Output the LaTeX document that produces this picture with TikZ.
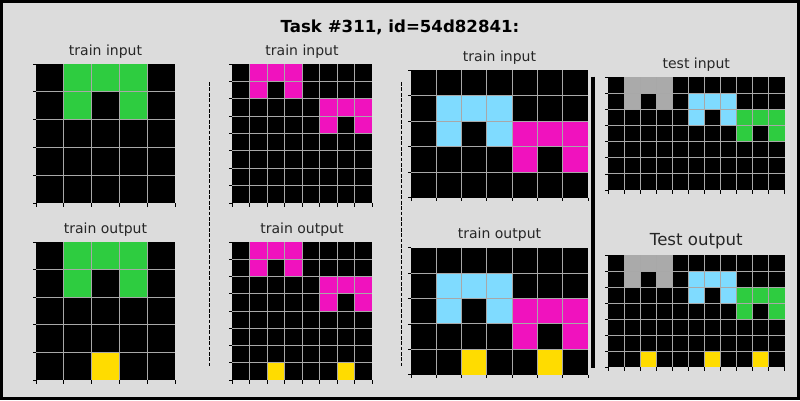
\documentclass[tikz,border=0pt]{standalone}
\usepackage{fontspec}
\setmainfont{DejaVu Sans}
\definecolor{arc0}{HTML}{000000}
\definecolor{arc3}{HTML}{2ECC40}
\definecolor{arc4}{HTML}{FFDC00}
\definecolor{arc5}{HTML}{AAAAAA}
\definecolor{arc6}{HTML}{F012BE}
\definecolor{arc8}{HTML}{7FDBFF}
\definecolor{bgc}{HTML}{DCDCDC}
\definecolor{gridc}{HTML}{A8A8A8}
\newcommand\arcgrid[7]{%
  \pgfmathsetmacro\gcw{(#3-#1)/#5}%
  \pgfmathsetmacro\gch{(#4-#2)/#6}%
  \foreach \rowdata [count=\r from 0] in {#7} {
    \foreach \v [count=\k from 0] in \rowdata {
      \fill[arc\v] ({#1+\k*\gcw},{#2+\r*\gch}) rectangle ++(\gcw,\gch);
    }
  }
  \pgfmathtruncatemacro\gnc{#5-1}%
  \pgfmathtruncatemacro\gnr{#6-1}%
  \foreach \i in {1,...,\gnc} {
    \draw[gridline] ({#1+\i*\gcw},#2) -- ({#1+\i*\gcw},#4);
  }
  \foreach \i in {1,...,\gnr} {
    \draw[gridline] (#1,{#2+\i*\gch}) -- (#3,{#2+\i*\gch});
  }
  \foreach \i in {0,...,#5} {
    \draw[tick] ({#1+\i*\gcw},#4) -- ++(0,3.5);
  }
  \foreach \i in {0,...,#6} {
    \draw[tick] (#1,{#2+\i*\gch}) -- ++(-3.5,0);
  }
}
\begin{document}
\begin{tikzpicture}[x=1pt,y=-1pt,
  gridline/.style={draw=gridc,line width=0.9pt},
  tick/.style={draw=black,line width=0.8pt},
  subtitle/.style={font=\fontsize{14}{16}\selectfont,text=black!85,inner sep=0pt},
  bigtitle/.style={font=\fontsize{16.6}{19}\selectfont,text=black!85,inner sep=0pt},
  sepdash/.style={draw=black,line width=1.4pt,dash pattern=on 3.7pt off 1.7pt},
  sepsolid/.style={draw=black,line width=4pt}]
\useasboundingbox (0,0) rectangle (800,400);
\fill[bgc] (0,0) rectangle (800,400);
\draw[line width=3pt] (1.5,1.5) rectangle (798.5,398.5);
\node[font=\bfseries\fontsize{16.6}{19}\selectfont,inner sep=0pt] (title) at (400,27) {Task \#311, id=54d82841:};
% grid 1
\node[subtitle] (t1i) at (105.5,52) {train input};
\arcgrid{36}{64}{175}{203}{5}{5}{{0,3,3,3,0},{0,3,0,3,0},{0,0,0,0,0},{0,0,0,0,0},{0,0,0,0,0}}
\node[subtitle] (t1o) at (105.5,229.5) {train output};
\arcgrid{36}{242}{175}{380}{5}{5}{{0,3,3,3,0},{0,3,0,3,0},{0,0,0,0,0},{0,0,0,0,0},{0,0,4,0,0}}
% grid 2
\node[subtitle] (t2i) at (302,52) {train input};
\arcgrid{232}{64}{372}{203}{8}{8}{{0,6,6,6,0,0,0,0},{0,6,0,6,0,0,0,0},{0,0,0,0,0,6,6,6},{0,0,0,0,0,6,0,6},{0,0,0,0,0,0,0,0},{0,0,0,0,0,0,0,0},{0,0,0,0,0,0,0,0},{0,0,0,0,0,0,0,0}}
\node[subtitle] (t2o) at (302,229.5) {train output};
\arcgrid{232}{242}{372}{380}{8}{8}{{0,6,6,6,0,0,0,0},{0,6,0,6,0,0,0,0},{0,0,0,0,0,6,6,6},{0,0,0,0,0,6,0,6},{0,0,0,0,0,0,0,0},{0,0,0,0,0,0,0,0},{0,0,0,0,0,0,0,0},{0,0,4,0,0,0,4,0}}
% grid 3
\node[subtitle] (t3i) at (499.5,57.5) {train input};
\arcgrid{411}{70}{588}{197.7}{7}{5}{{0,0,0,0,0,0,0},{0,8,8,8,0,0,0},{0,8,0,8,6,6,6},{0,0,0,0,6,0,6},{0,0,0,0,0,0,0}}
\node[subtitle] (t3o) at (499.5,234.5) {train output};
\arcgrid{411}{247.7}{588}{374.7}{7}{5}{{0,0,0,0,0,0,0},{0,8,8,8,0,0,0},{0,8,0,8,6,6,6},{0,0,0,0,6,0,6},{0,0,4,0,0,4,0}}
% grid 4
\node[subtitle] (t4i) at (696.3,64.5) {test input};
\arcgrid{608}{77.3}{784.7}{190}{11}{7}{{0,5,5,5,0,0,0,0,0,0,0},{0,5,0,5,0,8,8,8,0,0,0},{0,0,0,0,0,8,0,8,3,3,3},{0,0,0,0,0,0,0,0,3,0,3},{0,0,0,0,0,0,0,0,0,0,0},{0,0,0,0,0,0,0,0,0,0,0},{0,0,0,0,0,0,0,0,0,0,0}}
\node[bigtitle] (t4o) at (696.3,241) {Test output};
\arcgrid{608}{255.3}{784.7}{367.3}{11}{7}{{0,5,5,5,0,0,0,0,0,0,0},{0,5,0,5,0,8,8,8,0,0,0},{0,0,0,0,0,8,0,8,3,3,3},{0,0,0,0,0,0,0,0,3,0,3},{0,0,0,0,0,0,0,0,0,0,0},{0,0,0,0,0,0,0,0,0,0,0},{0,0,4,0,0,0,4,0,0,4,0}}
% separators
\coordinate (d1a) at (209.3,82);
\coordinate (d1b) at (209.3,366);
\coordinate (d2a) at (401.7,82);
\coordinate (d2b) at (401.7,366);
\coordinate (s1a) at (592.7,76.7);
\coordinate (s1b) at (592.7,367.5);
\draw[sepdash] (d1a) -- (d1b);
\draw[sepdash] (d2a) -- (d2b);
\draw[sepsolid] (s1a) -- (s1b);
\end{tikzpicture}
\end{document}
